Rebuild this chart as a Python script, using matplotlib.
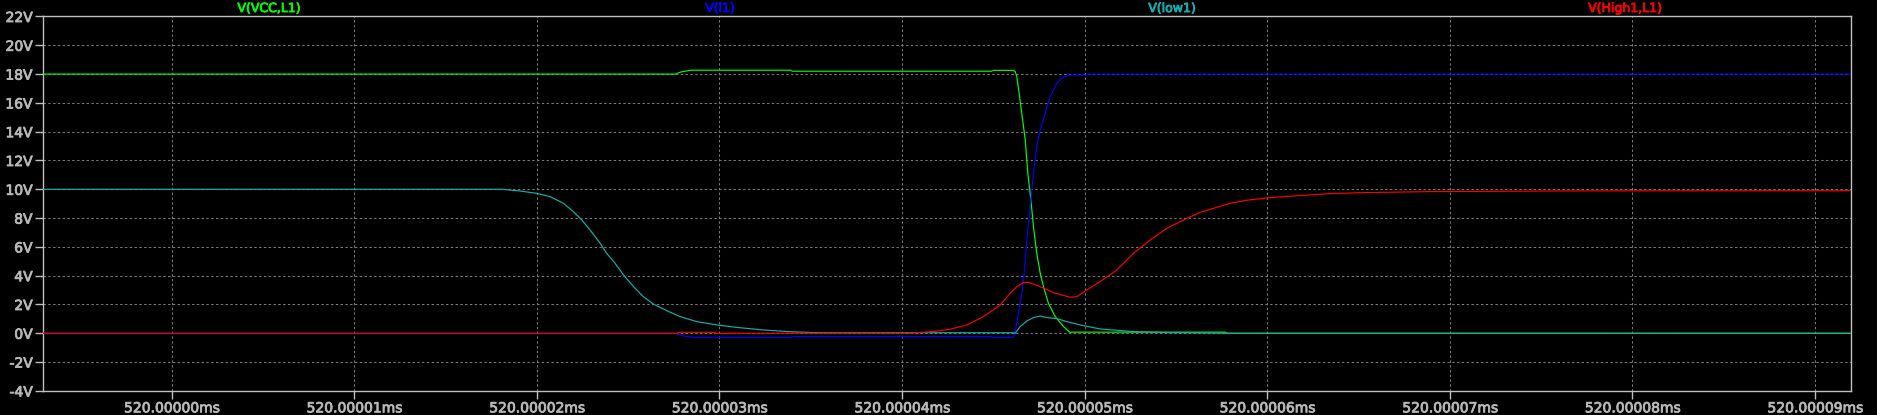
import matplotlib
matplotlib.use("Agg")
import matplotlib.pyplot as plt
import matplotlib.patheffects as pe
from matplotlib.ticker import FixedLocator, FuncFormatter

# time axis: nanoseconds after 520 ms
x_ticks = [0, 10, 20, 30, 40, 50, 60, 70, 80, 90]
y_ticks = [-4, -2, 0, 2, 4, 6, 8, 10, 12, 14, 16, 18, 20, 22]
x_range = (-7.04, 91.97)
y_range = (-4, 22)

trace_names = ["V(VCC,L1)", "V(l1)", "V(low1)", "V(High1,L1)"]
trace_colors = ["#00ff00", "#0000ff", "#14b0b0", "#ff0000"]

vcc_t = [-7.04, 27.6, 27.7, 27.9, 28.45, 33.9, 34.0, 44.9, 45.0, 46.1, 46.2, 46.29, 46.56,
         46.75, 46.89, 47.06, 47.2, 47.38, 47.57, 47.75, 48.02, 48.39, 48.85, 49.21, 49.3,
         57.7, 57.8, 91.97]
vcc_v = [18.0, 18.0, 18.06, 18.15, 18.27, 18.27, 18.2, 18.2, 18.26, 18.26, 18.17, 17.82, 15.28,
         13.43, 11.11, 9.26, 7.41, 5.56, 4.17, 3.24, 2.08, 1.16, 0.46, 0.05, 0.08,
         0.08, 0.0, 0.0]

l1_t = [-7.04, 27.6, 27.99, 28.5, 34.0, 34.05, 44.9, 45.0, 46.1, 46.2, 46.38, 46.56, 46.69,
        46.84, 47.02, 47.2, 47.38, 47.57, 47.84, 48.11, 48.48, 48.85, 49.21, 50.1, 50.2, 91.97]
l1_v = [0.0, 0.0, -0.16, -0.28, -0.28, -0.23, -0.23, -0.28, -0.28, 0.12, 1.39, 2.78, 4.17,
        6.48, 8.8, 11.11, 12.96, 14.12, 15.28, 16.44, 17.36, 17.82, 17.94, 17.94, 18.0, 18.0]

low1_t = [-7.04, 18.1, 19.09, 20.0, 20.73, 21.46, 22.0, 22.47, 22.92, 23.47, 23.83, 24.29,
          24.75, 25.3, 25.84, 26.39, 27.12, 27.85, 28.76, 29.86, 30.95, 32.41, 33.87, 35.4,
          46.1, 46.2, 46.47, 46.84, 47.2, 47.57, 47.93, 48.48, 49.03, 49.76, 50.85, 52.68,
          54.5, 58.0, 91.97]
low1_v = [10.0, 10.0, 9.88, 9.72, 9.49, 9.03, 8.45, 7.87, 7.17, 6.25, 5.55, 4.86,
          4.05, 3.24, 2.54, 2.03, 1.57, 1.16, 0.81, 0.58, 0.41, 0.23, 0.11, 0.04,
          0.04, 0.0, 0.46, 0.86, 1.09, 1.2, 1.09, 1.02, 0.81, 0.58, 0.3, 0.12,
          0.05, 0.0, 0.0]

high1_t = [-7.04, 27.7, 27.76, 29.77, 29.8, 40.5, 41.7, 42.64, 43.55, 44.46, 45.38, 45.92,
           46.29, 46.65, 46.93, 47.57, 48.3, 49.21, 49.58, 50.12, 50.85, 51.77, 52.68, 53.59,
           54.5, 55.42, 56.33, 57.06, 57.97, 58.88, 59.98, 60.89, 62.35, 63.45, 65.27, 68.92,
           77.14, 91.97]
high1_v = [0.0, 0.0, 0.07, 0.07, 0.0, 0.02, 0.12, 0.28, 0.58, 1.16, 1.97, 2.78,
           3.24, 3.52, 3.54, 3.24, 2.82, 2.5, 2.55, 3.01, 3.59, 4.4, 5.56, 6.48,
           7.29, 7.87, 8.4, 8.68, 9.03, 9.24, 9.40, 9.49, 9.61, 9.70, 9.77, 9.84,
           9.89, 9.9]

W, H = 1877, 415
fig = plt.figure(figsize=(W / 100, H / 100), dpi=100, facecolor="black")
ax = fig.add_axes([43 / W, 24.1 / H, 1808 / W, (390.9 - 16.5) / H])
ax.set_facecolor("black")

series = [(vcc_t, vcc_v), (l1_t, l1_v), (low1_t, low1_v), (high1_t, high1_v)]
for i, ((t, v), c) in enumerate(zip(series, trace_colors)):
    ax.plot(t, v, color=c, lw=0.85, zorder=3 + i, solid_joinstyle="miter")

ax.set_xlim(*x_range)
ax.set_ylim(*y_range)
ax.xaxis.set_major_locator(FixedLocator(x_ticks))
ax.yaxis.set_major_locator(FixedLocator(y_ticks))
ax.xaxis.set_major_formatter(FuncFormatter(lambda v, p: f"{520 + v * 1e-6:.5f}ms"))
ax.yaxis.set_major_formatter(FuncFormatter(lambda v, p: f"{int(round(v))}V"))

ax.grid(True, color="#7a7a7a", linestyle=(0, (2.3, 2.3)), linewidth=0.75, zorder=1)
for s in ax.spines.values():
    s.set_color("#c0c0c0")
    s.set_linewidth(1.0)
ax.tick_params(axis="both", colors="#c0c0c0", length=6, width=1.0, direction="out",
               labelsize=10, pad=1.5)
tick_col = "#b8b8b8"
for lab in ax.get_xticklabels() + ax.get_yticklabels():
    lab.set_fontfamily("DejaVu Sans")
    lab.set_color(tick_col)
    lab.set_path_effects([pe.withStroke(linewidth=0.6, foreground=tick_col)])

title_x = [269, 720, 1172, 1625]
for name, c, xp in zip(trace_names, trace_colors, title_x):
    fig.text(xp / W, (H - 8.5) / H, name, color=c, ha="center", va="center",
             fontsize=9, family="DejaVu Sans",
             path_effects=[pe.withStroke(linewidth=0.6, foreground=c)])

fig.savefig("out.png", dpi=100, facecolor="black")
